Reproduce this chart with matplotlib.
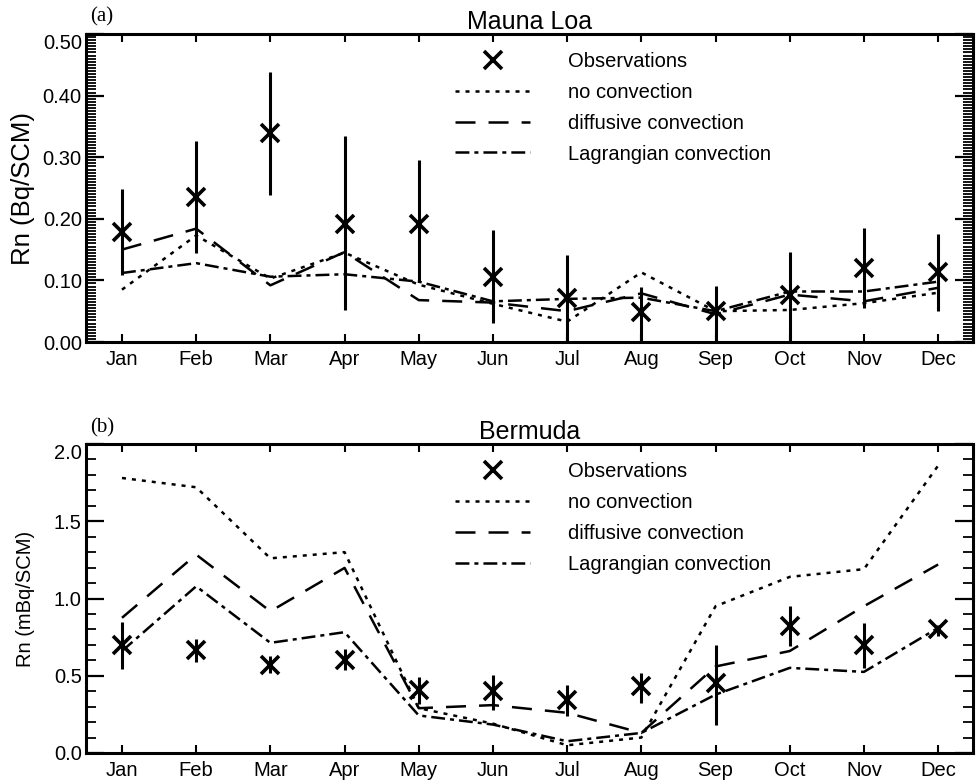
import matplotlib
matplotlib.use("Agg")
import matplotlib.pyplot as plt
import numpy as np
from matplotlib.ticker import MultipleLocator

plt.rcParams['font.family'] = ['Liberation Sans', 'DejaVu Sans']
plt.rcParams['lines.scale_dashes'] = False

months = ['Jan', 'Feb', 'Mar', 'Apr', 'May', 'Jun', 'Jul', 'Aug', 'Sep', 'Oct', 'Nov', 'Dec']
month_idx = np.arange(1, 13)

series_labels = ['Observations', 'no convection', 'diffusive convection', 'Lagrangian convection']

# Mauna Loa (Bq/SCM)
ml_obs = [0.179, 0.236, 0.339, 0.192, 0.192, 0.106, 0.071, 0.048, 0.050, 0.077, 0.120, 0.113]
ml_hi = [0.249, 0.326, 0.438, 0.334, 0.295, 0.182, 0.142, 0.090, 0.091, 0.146, 0.185, 0.176]
ml_lo = [0.109, 0.145, 0.239, 0.052, 0.097, 0.031, 0.0, 0.0, 0.0, 0.0, 0.055, 0.050]
ml_none = [0.085, 0.173, 0.103, 0.145, 0.093, 0.062, 0.033, 0.113, 0.050, 0.052, 0.063, 0.080]
ml_diff = [0.150, 0.184, 0.092, 0.146, 0.068, 0.064, 0.050, 0.079, 0.045, 0.077, 0.066, 0.088]
ml_lagr = [0.112, 0.128, 0.106, 0.110, 0.098, 0.066, 0.070, 0.072, 0.050, 0.082, 0.082, 0.098]

# Bermuda (mBq/SCM)
bm_obs = [0.70, 0.665, 0.572, 0.605, 0.41, 0.40, 0.346, 0.432, 0.454, 0.82, 0.70, 0.80]
bm_hi = [0.846, 0.739, 0.626, 0.67, 0.493, 0.508, 0.443, 0.519, 0.702, 0.95, 0.842, 0.83]
bm_lo = [0.545, 0.587, 0.519, 0.54, 0.314, 0.281, 0.238, 0.325, 0.184, 0.69, 0.551, 0.755]
bm_none = [1.78, 1.72, 1.26, 1.30, 0.29, 0.19, 0.05, 0.10, 0.95, 1.14, 1.19, 1.86]
bm_diff = [0.875, 1.284, 0.917, 1.198, 0.29, 0.31, 0.26, 0.13, 0.56, 0.66, 0.95, 1.22]
bm_lagr = [0.66, 1.079, 0.713, 0.782, 0.243, 0.184, 0.076, 0.13, 0.378, 0.551, 0.525, 0.81]

W, H = 977, 784
fig = plt.figure(figsize=(W / 100, H / 100), dpi=100)
ax1 = fig.add_axes([86 / W, 1 - 342 / H, 887 / W, 308 / H])
ax2 = fig.add_axes([86 / W, 1 - 753 / H, 887 / W, 309 / H])

LW = 1.8
DOT = (0, (2.9, 4.3))
DASH = (0, (14.4, 9.4))
DASHDOT = (0, (10.0, 3.6, 2.9, 3.6))
TICKFS = 14.5


def draw(ax, obs, lo, hi, none, diff, lagr, ylim, major, minor, ylabel, ylabel_fs,
         title, tag, tag_y, fmt):
    ax.vlines(month_idx, lo, hi, colors='black', linewidth=2.2, zorder=2)
    kw = dict(color='black', linewidth=LW, dash_capstyle='butt', zorder=3)
    ax.plot(month_idx, obs, linestyle='none', marker='x', markersize=12.5,
            markeredgewidth=2.6, color='black', zorder=4, label=series_labels[0])
    ax.plot(month_idx, none, linestyle=DOT, label=series_labels[1], **kw)
    ax.plot(month_idx, diff, linestyle=DASH, label=series_labels[2], **kw)
    ax.plot(month_idx, lagr, linestyle=DASHDOT, label=series_labels[3], **kw)

    ax.set_xlim(0.515, 12.47)
    ax.set_ylim(*ylim)
    ax.set_xticks(month_idx, months)
    yt = np.arange(ylim[0], ylim[1] + major / 2, major)
    ax.set_yticks(yt, [fmt.format(v) for v in yt])
    ax.yaxis.set_minor_locator(MultipleLocator(minor))
    for s in ax.spines.values():
        s.set_linewidth(2.2)
    ax.tick_params(axis='both', which='both', direction='in', top=True, right=True,
                   labelsize=TICKFS, color='black')
    ax.tick_params(axis='x', which='major', length=5.8, width=1.5, pad=6)
    ax.tick_params(axis='x', which='minor', length=0)
    ax.tick_params(axis='y', which='major', length=13, width=1.6, pad=3)
    ax.tick_params(axis='y', which='minor', length=7, width=1.3)
    labels = ax.get_yticklabels()
    labels[-1].set_va('top')

    ax.set_ylabel(ylabel, fontsize=ylabel_fs)
    ax.yaxis.set_label_coords(-0.058, 0.5)
    ax.set_title(title, fontsize=18, pad=1)
    ax.text(0.005, tag_y, tag, transform=ax.transAxes, fontsize=15,
            family=['Liberation Serif', 'DejaVu Serif'], ha='left', va='baseline')

    ax.legend(loc='upper left', bbox_to_anchor=(0.416, 0.942), frameon=False,
              fontsize=TICKFS, borderpad=0, borderaxespad=0, handlelength=3.73,
              handletextpad=1.9, labelspacing=0.59, numpoints=1)


draw(ax1, ml_obs, ml_lo, ml_hi, ml_none, ml_diff, ml_lagr, (0.0, 0.5), 0.1, 0.005,
     'Rn (Bq/SCM)', 18.5, 'Mauna Loa', '(a)', 1.040, '{:.2f}')
draw(ax2, bm_obs, bm_lo, bm_hi, bm_none, bm_diff, bm_lagr, (0.0, 2.0), 0.5, 0.1,
     'Rn (mBq/SCM)', 14.5, 'Bermuda', '(b)', 1.037, '{:.1f}')

fig.savefig('out.png', dpi=100)
